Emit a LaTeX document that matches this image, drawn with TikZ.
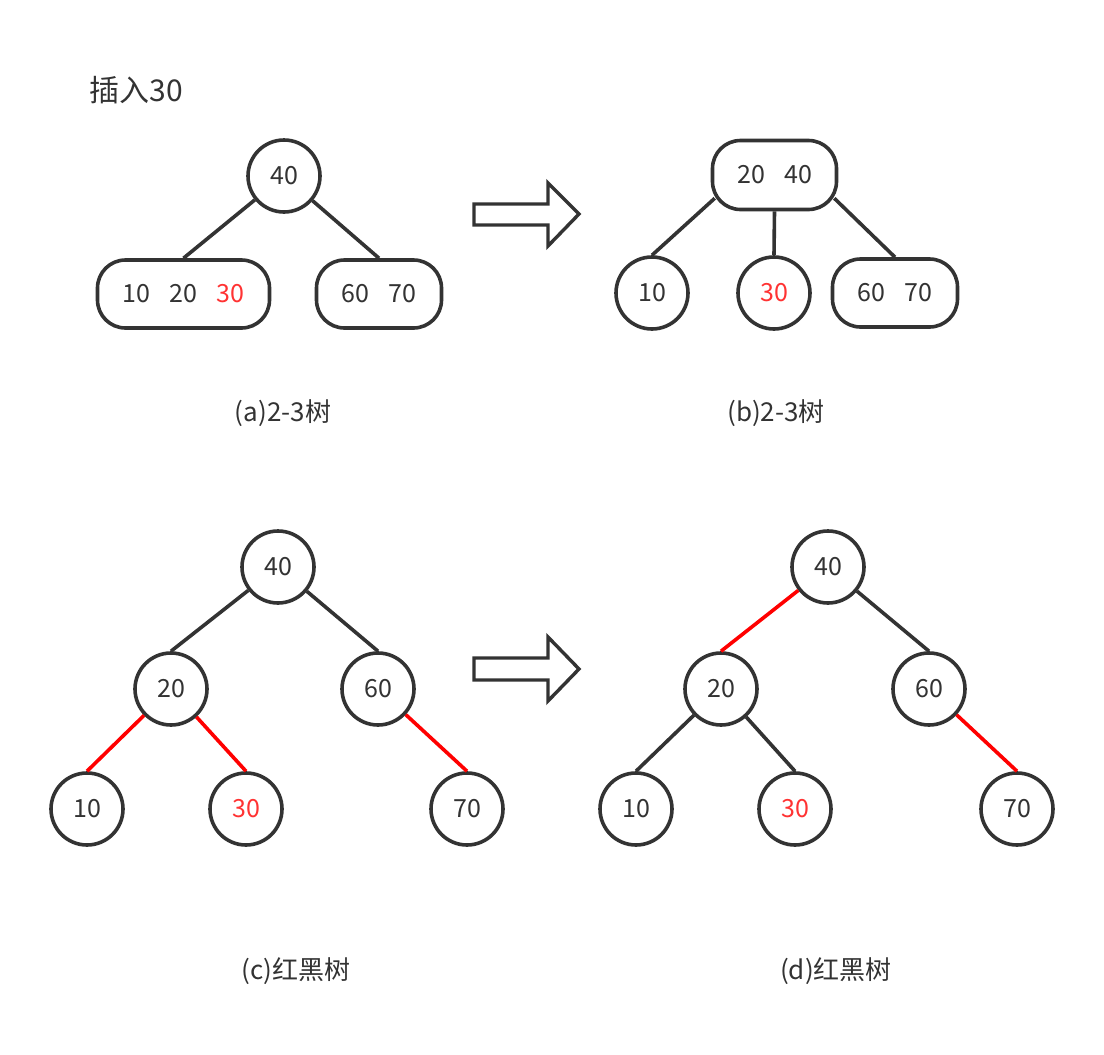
\documentclass[tikz,border=0pt]{standalone}
\usepackage{fontspec}
\setmainfont{Noto Sans CJK SC}
\usetikzlibrary{calc}
\definecolor{ink}{HTML}{333333}
\definecolor{hot}{HTML}{FF3333}
\definecolor{redline}{HTML}{FF0000}
\begin{document}
\begin{tikzpicture}[x=1pt,y=-1pt,
  every node/.style={text=ink,font=\fontsize{25}{29}\selectfont},
  circ/.style={circle,draw=ink,line width=3.6pt,minimum size=72pt,inner sep=0pt,fill=white},
  box/.style={rectangle,rounded corners=28pt,draw=ink,line width=3.6pt,minimum height=68pt,inner sep=0pt,fill=white},
  edge/.style={draw=ink,line width=3.6pt},
  redge/.style={draw=redline,line width=3.6pt},
  bigarrow/.style={draw=ink,line width=3.4pt,fill=white,line join=miter},
  captext/.style={font=\fontsize{26}{30}\selectfont}
]
\useasboundingbox (0,0) rectangle (1104,1055);
\newcommand{\cell}[1]{\makebox[47pt]{#1}}

\node[anchor=west,font=\fontsize{30}{34}\selectfont] (title) at (86,90) {插入30};

% (a)
\node[circ] (a40) at (284,176) {40};
\node[box,minimum width=172pt] (aL) at (183.5,294) {\cell{10}\cell{20}\cell{\textcolor{hot}{30}}};
\node[box,minimum width=125pt] (aR) at (379,294) {\cell{60}\cell{70}};
\draw[edge] (a40) -- (aL.north);
\draw[edge] (a40) -- (aR.north);
\node[captext] (capa) at (283,413) {(a)2-3树};

% arrow 1
\draw[bigarrow] (474,204) -- (548,204) -- (548,183) -- (579,214) -- (548,246) -- (548,225) -- (474,225) -- cycle;

% (b)
\node[box,minimum width=124pt,minimum height=69pt] (bT) at (774.5,175) {\cell{20}\cell{40}};
\node[circ] (b10) at (652,293) {10};
\node[circ] (b30) at (774,293) {\textcolor{hot}{30}};
\node[box,minimum width=125pt] (bR) at (895,293) {\cell{60}\cell{70}};
\draw[edge] ($(bT.south west)+(4,-13)$) -- (b10.north);
\draw[edge] (bT.south) -- (b30.north);
\draw[edge] ($(bT.south east)+(-4,-13)$) -- (bR.north);
\node[captext] (capb) at (776,413) {(b)2-3树};

% (c)
\node[circ] (c40) at (278,567) {40};
\node[circ] (c20) at (171,689) {20};
\node[circ] (c60) at (378,689) {60};
\node[circ] (c10) at (87,809) {10};
\node[circ] (c30) at (246,809) {\textcolor{hot}{30}};
\node[circ] (c70) at (467,809) {70};
\draw[edge] (c40) -- (c20.north);
\draw[edge] (c40) -- (c60.north);
\draw[redge] (c20) -- (c10.north);
\draw[redge] (c20) -- (c30.north);
\draw[redge] (c60) -- (c70.north);
\node[captext] (capc) at (296,971) {(c)红黑树};

% arrow 2
\draw[bigarrow] (474,658) -- (548,658) -- (548,637) -- (579,669) -- (548,701) -- (548,680) -- (474,680) -- cycle;

% (d)
\node[circ] (d40) at (828,567) {40};
\node[circ] (d20) at (721,689) {20};
\node[circ] (d60) at (929,689) {60};
\node[circ] (d10) at (636,809) {10};
\node[circ] (d30) at (795,809) {\textcolor{hot}{30}};
\node[circ] (d70) at (1017,809) {70};
\draw[redge] (d40) -- (d20.north);
\draw[edge] (d40) -- (d60.north);
\draw[edge] (d20) -- (d10.north);
\draw[edge] (d20) -- (d30.north);
\draw[redge] (d60) -- (d70.north);
\node[captext] (capd) at (836,971) {(d)红黑树};
\end{tikzpicture}
\end{document}
